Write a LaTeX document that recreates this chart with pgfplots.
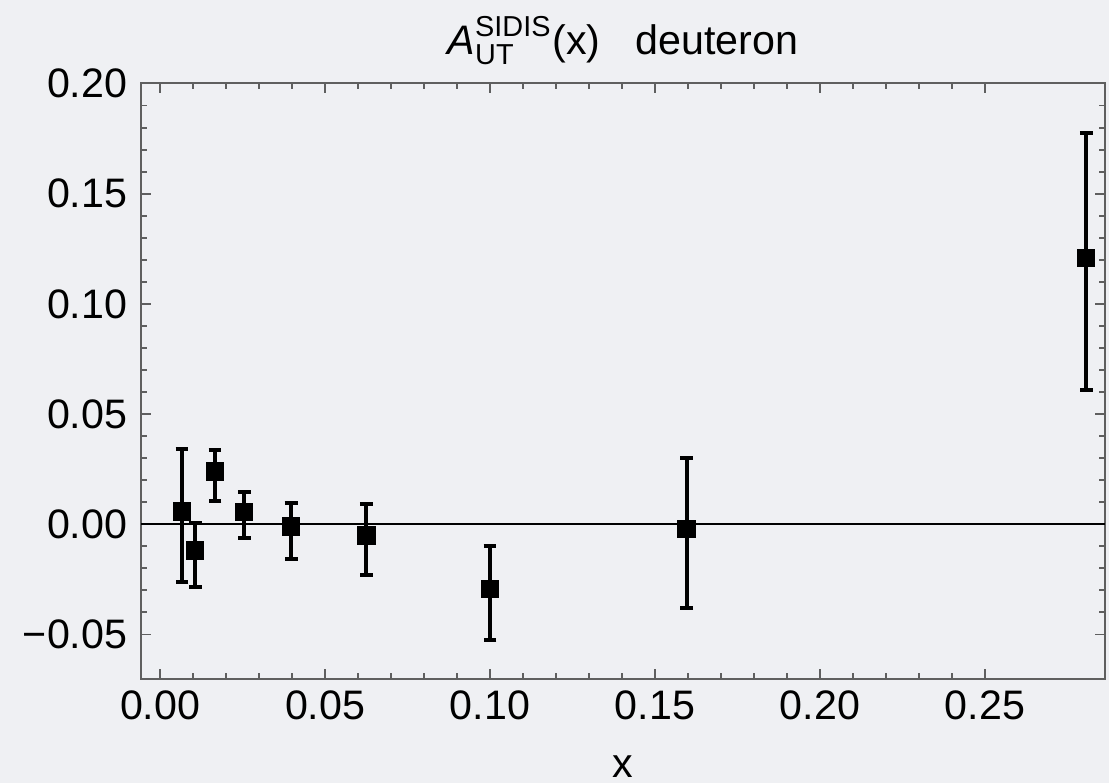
\documentclass[border=0pt]{standalone}
\usepackage{amsmath}
\usepackage{fontspec}
\setmainfont{Liberation Sans}
\usepackage{pgfplots}
\pgfplotsset{compat=1.18}
\usepackage{pgfplotstable}

\definecolor{bgcol}{RGB}{239,240,243}
\definecolor{framecol}{RGB}{95,95,95}

% x, A_UT, upper and lower error
\pgfplotstableread{
x       y        ep      em
0.0066  0.0057   0.0284  0.0318
0.0106  -0.0120  0.0125  0.0166
0.0166  0.0239   0.0096  0.0133
0.0255  0.0056   0.0089  0.0121
0.0397  -0.0011  0.0109  0.0147
0.0625  -0.0052  0.0143  0.0178
0.1000  -0.0294  0.0195  0.0232
0.1596  -0.0021  0.0321  0.0361
0.2807  0.1209   0.0568  0.0599
}\deuteron

\begin{document}
\begin{tikzpicture}
\path[use as bounding box, fill=bgcol] (0,0) rectangle (277.25pt,195.75pt);
\begin{axis}[
    at={(35.25pt,26pt)}, anchor=south west,
    scale only axis,
    width=241pt, height=149pt,
    xmin=-0.0058, xmax=0.2864,
    ymin=-0.0703, ymax=0.2003,
    xtick={0,0.05,...,0.25},
    ytick={-0.05,0,0.05,0.10,0.15,0.20},
    xticklabels={0.00,0.05,0.10,0.15,0.20,0.25},
    yticklabels={−0.05,0.00,0.05,0.10,0.15,0.20},
    minor x tick num=4, minor y tick num=4,
    tick align=inside,
    major tick length=2.5pt, minor tick length=1.5pt,
    tick style={framecol, line width=0.4pt},
    axis line style={framecol, line width=0.5pt},
    ticklabel style={font=\fontsize{10.3}{12}\selectfont, inner sep=0pt},
    xticklabel style={yshift=-2.75pt},
    yticklabel style={xshift=-3.25pt},
    extra y ticks={0},
    extra y tick labels={},
    extra y tick style={grid=major, major grid style={black, line width=0.5pt}, major tick length=0pt},
    title={$\textit{A}^{\text{SIDIS}}_{\text{UT}}$(x)\hspace{0.85em}deuteron},
    every axis title shift=0pt,
    title style={at={(axis description cs:0.5,1)}, anchor=base, yshift=7pt, inner sep=0pt, font=\fontsize{10.3}{12}\selectfont},
    xlabel={x},
    xlabel style={at={(axis description cs:0.5,0)}, anchor=base, yshift=-24.5pt, inner sep=0pt, font=\fontsize{10.3}{12}\selectfont},
]
\addplot[only marks, mark=square*, mark size=2.1pt, black,
    error bars/.cd, y dir=both, y explicit,
    error mark=-,
    error bar style={line width=1pt, black},
    error mark options={rotate=90, line width=1pt, mark size=1.6pt, black}]
    table[x=x, y=y, y error plus=ep, y error minus=em] {\deuteron};
\end{axis}
\end{tikzpicture}
\end{document}
